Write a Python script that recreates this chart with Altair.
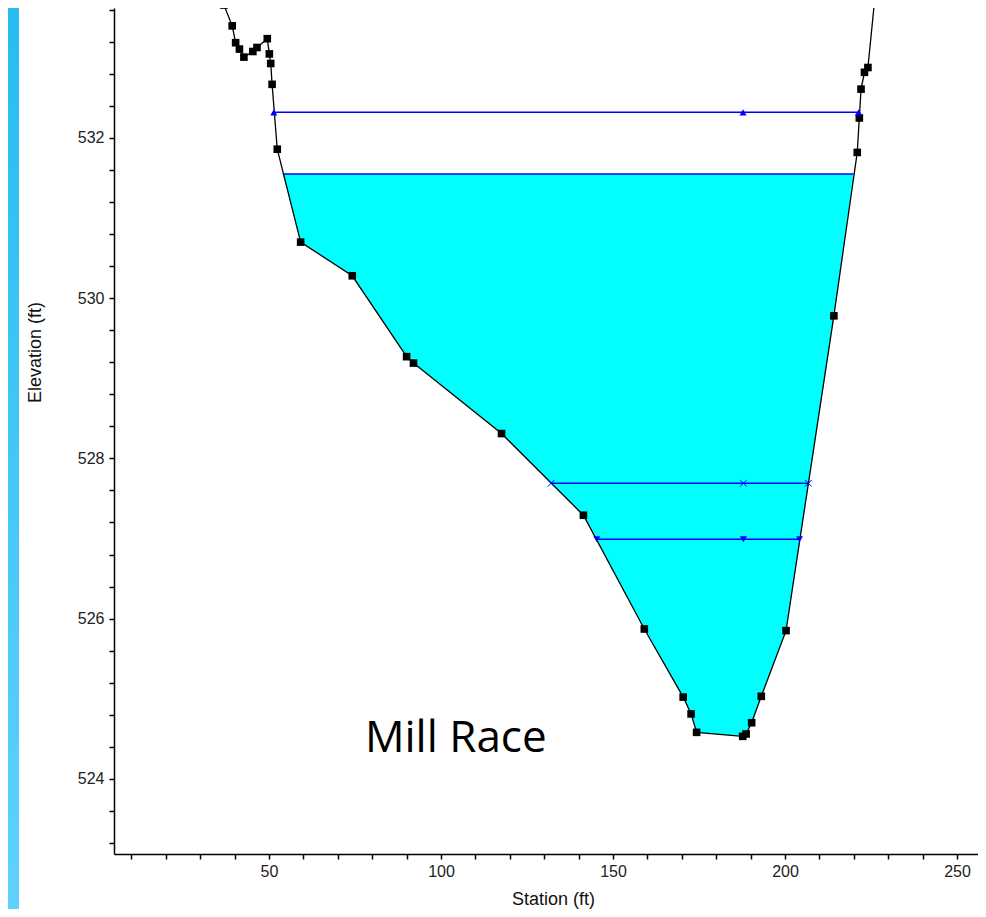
import altair as alt
import pandas as pd

# ---- data ----
ground_station = [36.9, 39.3, 40.3, 41.4, 42.7, 45.3, 46.5, 49.5, 50.1, 50.5, 50.9,
                  52.4, 59.2, 74.2, 90.0, 92.0, 117.6, 141.4, 159.1, 170.4, 172.7,
                  174.3, 187.7, 188.7, 190.3, 193.1, 200.3, 214.2, 221.0, 221.6,
                  222.1, 223.1, 224.1, 226.7]
ground_elev = [533.66, 533.40, 533.19, 533.11, 533.01, 533.08, 533.13, 533.24, 533.05,
               532.93, 532.67, 531.86, 530.70, 530.28, 529.27, 529.19, 528.31, 527.29,
               525.87, 525.02, 524.81, 524.58, 524.53, 524.56, 524.70, 525.03, 525.85,
               529.78, 531.82, 532.25, 532.61, 532.82, 532.88, 534.0]

ws_elev = 531.55
ws_left, ws_right = 54.0, 219.9

eg_station = [51.4, 187.8, 221.4]
eg_elev = [532.32, 532.32, 532.32]
crit_station = [132.0, 187.9, 206.8]
crit_elev = [527.69, 527.69, 527.69]
low_station = [145.3, 187.9, 204.2]
low_elev = [526.99, 526.99, 526.99]

x_ticks = [10, 20, 30, 40, 50, 60, 70, 80, 90, 100, 110, 120, 130, 140, 150, 160,
           170, 180, 190, 200, 210, 220, 230, 240, 250]
y_ticks = [523.2, 523.6, 524.0, 524.4, 524.8, 525.2, 525.6, 526.0, 526.4, 526.8,
           527.2, 527.6, 528.0, 528.4, 528.8, 529.2, 529.6, 530.0, 530.4, 530.8,
           531.2, 531.6, 532.0, 532.4, 532.8, 533.2, 533.6]

label_text = ["Mill Race"]
label_station = [104.3]
label_elev = [524.34]

# ---- tables ----
ground = pd.DataFrame({"station": ground_station, "elev": ground_elev})

water_rows = [{"station": ws_left, "elev": ws_elev, "ws": ws_elev}]
for s, e in zip(ground_station, ground_elev):
    if ws_left < s < ws_right:
        water_rows.append({"station": s, "elev": e, "ws": ws_elev})
water_rows.append({"station": ws_right, "elev": ws_elev, "ws": ws_elev})
water = pd.DataFrame(water_rows)

ws_line = pd.DataFrame({"station": [ws_left, ws_right], "elev": [ws_elev, ws_elev]})
eg = pd.DataFrame({"station": eg_station, "elev": eg_elev})
crit = pd.DataFrame({"station": crit_station, "elev": crit_elev})
low = pd.DataFrame({"station": low_station, "elev": low_elev})
labels = pd.DataFrame({"txt": label_text, "station": label_station, "elev": label_elev})

FONT = "Liberation Sans"
W, H = 864, 846
PAD_B = 55

xscale = alt.Scale(domain=[4.94, 256.10], nice=False, zero=False)
yscale = alt.Scale(domain=[523.061, 533.623], nice=False, zero=False)

xaxis = alt.Axis(values=x_ticks,
                 labelExpr="datum.value % 50 == 0 ? datum.label : ''",
                 grid=False, tickSize=5, tickColor="black", tickWidth=1.5,
                 domainColor="black", domainWidth=1.5,
                 labelFont=FONT, labelFontSize=16, labelColor="#222222", labelPadding=4,
                 title="Station (ft)", titleFont=FONT, titleFontSize=18,
                 titleFontWeight="normal", titleColor="#111111",
                 titleX=439, titleY=45, titleAlign="center", titleBaseline="middle",
                 zindex=1)
yaxis = alt.Axis(values=y_ticks,
                 labelExpr="abs(datum.value/2 - round(datum.value/2)) < 0.01 ? format(datum.value, 'd') : ''",
                 grid=False, tickSize=5, tickColor="black", tickWidth=1.5,
                 domainColor="black", domainWidth=1.5,
                 labelFont=FONT, labelFontSize=16, labelColor="#222222", labelPadding=5,
                 title="Elevation (ft)", titleFont=FONT, titleFontSize=18,
                 titleFontWeight="normal", titleColor="#111111",
                 titleX=-79, titleY=344, titleAngle=270, titleAlign="center",
                 titleBaseline="middle", zindex=1)

X = alt.X("station:Q", scale=xscale, axis=xaxis)
Y = alt.Y("elev:Q", scale=yscale, axis=yaxis)

# decorative left band (screen frame)
band = alt.Chart(alt.Data(values=[{}])).mark_rect(
    clip=False,
    color=alt.Gradient(gradient="linear",
                       stops=[alt.GradientStop(color="#27bcf3", offset=0),
                              alt.GradientStop(color="#5fd2fb", offset=1)],
                       x1=0, x2=0, y1=0, y2=1)
).encode(x=alt.value(-106), x2=alt.value(-95), y=alt.value(0), y2=alt.value(H + PAD_B))

area = alt.Chart(water).mark_area(color="#00ffff", opacity=1, clip=True).encode(
    x=X, y=Y, y2=alt.Y2("ws:Q"))

ws = alt.Chart(ws_line).mark_line(color="#0000ff", strokeWidth=1.5, clip=True).encode(x=X, y=Y)

ground_line = alt.Chart(ground).mark_line(color="black", strokeWidth=1.3, clip=True).encode(x=X, y=Y)
ground_pts = alt.Chart(ground).mark_square(color="black", size=58, opacity=1, clip=True).encode(x=X, y=Y)

eg_line = alt.Chart(eg).mark_line(color="#0000ff", strokeWidth=1.5, clip=True).encode(x=X, y=Y)
eg_pts = alt.Chart(eg).mark_point(shape="triangle-up", filled=True, color="#0000ff",
                                  size=50, opacity=1, clip=True).encode(x=X, y=Y)

crit_line = alt.Chart(crit).mark_line(color="#0000ff", strokeWidth=1.5, clip=True).encode(x=X, y=Y)
crit_pts = alt.Chart(crit).mark_point(shape="M-1,-1L1,1M1,-1L-1,1", filled=False,
                                      color="#0000ff", size=45, strokeWidth=1,
                                      opacity=1, clip=True).encode(x=X, y=Y)

low_line = alt.Chart(low).mark_line(color="#0000ff", strokeWidth=1.5, clip=True).encode(x=X, y=Y)
low_pts = alt.Chart(low).mark_point(shape="triangle-down", filled=True, color="#0000ff",
                                    size=50, opacity=1, clip=True).encode(x=X, y=Y)

text = alt.Chart(labels).mark_text(font="Open Sans", fontSize=44, color="black",
                                   align="center", baseline="alphabetic").encode(
    x=X, y=Y, text="txt:N")

chart = alt.layer(
    band, area, ws, eg_line, crit_line, low_line, ground_line, ground_pts,
    eg_pts, crit_pts, low_pts, text
).properties(
    width=W, height=H,
    autosize=alt.AutoSizeParams(type="none"),
    padding={"left": 106, "top": 0, "right": 0, "bottom": PAD_B},
    background="white",
).configure_view(stroke=None)

chart.save("out.html", embed_options={"renderer": "svg", "actions": False})
